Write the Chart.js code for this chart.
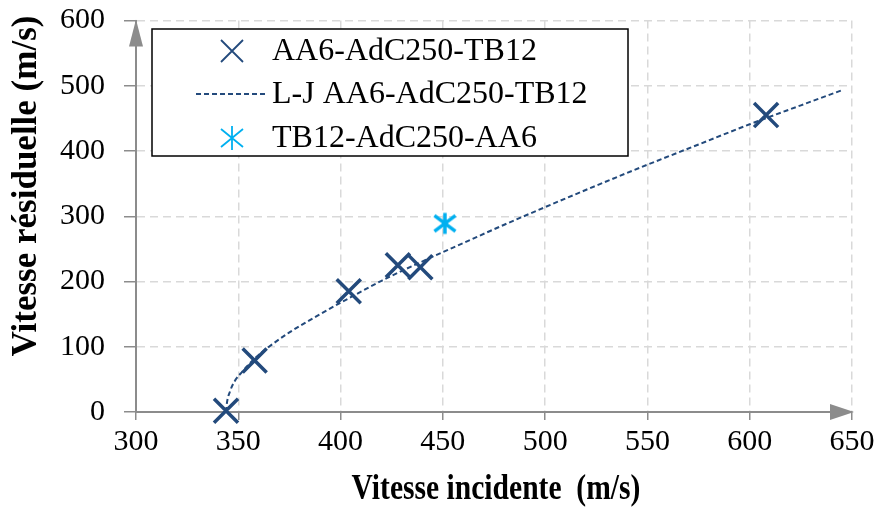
<!DOCTYPE html>
<html>
<head>
<meta charset="utf-8">
<script src="https://cdn.jsdelivr.net/npm/chart.js@4.4.1/dist/chart.umd.min.js"></script>
<style>
  html, body { margin: 0; padding: 0; background: #fff; }
  #wrap { width: 880px; height: 509px; }
</style>
</head>
<body>
<div id="wrap"><canvas id="myChart" width="880" height="509"></canvas></div>
<script>
// measured points, AA6-AdC250-TB12
const incident = [344, 358, 404, 428, 439, 608];
const residual = [2, 79, 185, 225, 222, 455];

// reversed stacking, TB12-AdC250-AA6
const incidentRev = [451];
const residualRev = [289];

// Lambert-Jonas fit
const ljIncident = [344, 344.5, 346, 348, 352, 358, 365, 375, 390, 405, 420, 445, 460, 480, 500, 525, 550, 575, 600, 625, 645];
const ljResidual = [0, 15, 32, 46, 62, 82, 100, 122, 150, 176, 201, 238, 259, 287, 314, 347, 379, 410, 441, 470, 493];

const xTicks = [300, 350, 400, 450, 500, 550, 600, 650];
const yTicks = [0, 100, 200, 300, 400, 500, 600];

const darkBlue = '#234a7c';
const cyan = '#00b0f0';
const serif = "'Liberation Serif', 'Times New Roman', serif";

// asterisk marker (X plus vertical bar)
function makeAsterisk(size, color, lw) {
  const c = document.createElement('canvas');
  c.width = size; c.height = size;
  const g = c.getContext('2d');
  const m = size / 2, r = size / 2 - lw;
  g.strokeStyle = color; g.lineWidth = lw; g.lineCap = 'butt';
  g.beginPath();
  g.moveTo(m - r, m - r * 0.75); g.lineTo(m + r, m + r * 0.75);
  g.moveTo(m - r, m + r * 0.75); g.lineTo(m + r, m - r * 0.75);
  g.moveTo(m, m - r); g.lineTo(m, m + r);
  g.stroke();
  return c;
}

const toXY = (xs, ys) => xs.map((x, i) => ({ x: x, y: ys[i] }));

const decorations = {
  id: 'decorations',
  afterDraw(chart) {
    const { ctx, chartArea: a } = chart;
    ctx.save();
    ctx.fillStyle = '#8c8c8c';
    // x arrow
    ctx.beginPath();
    ctx.moveTo(a.right + 2, a.bottom);
    ctx.lineTo(a.right - 22, a.bottom - 8);
    ctx.lineTo(a.right - 22, a.bottom + 8);
    ctx.closePath();
    ctx.fill();
    // y arrow
    ctx.beginPath();
    ctx.moveTo(a.left, a.top - 1);
    ctx.lineTo(a.left - 7, a.top + 26);
    ctx.lineTo(a.left + 7, a.top + 26);
    ctx.closePath();
    ctx.fill();
    ctx.restore();

    // axis titles
    ctx.save();
    ctx.fillStyle = '#000';
    ctx.font = "bold 35px " + serif;
    ctx.textAlign = 'center';
    ctx.textBaseline = 'middle';
    ctx.translate(27, 186);
    ctx.rotate(-Math.PI / 2);
    ctx.fillText('Vitesse résiduelle (m/s)', 0, 0);
    ctx.restore();

    ctx.save();
    ctx.fillStyle = '#000';
    ctx.font = "bold 35px " + serif;
    ctx.textAlign = 'center';
    ctx.textBaseline = 'middle';
    ctx.translate(496, 490);
    ctx.scale(0.845, 1);
    ctx.fillText('Vitesse incidente  (m/s)', 0, 0);
    ctx.restore();

    // legend box
    ctx.save();
    ctx.fillStyle = '#fff';
    ctx.fillRect(152, 29, 476, 127);
    ctx.strokeStyle = '#000';
    ctx.lineWidth = 1.5;
    ctx.strokeRect(152, 29, 476, 127);
    const rows = [51, 94, 138];
    const mx = 232;
    ctx.strokeStyle = darkBlue;
    ctx.lineWidth = 1.8;
    ctx.beginPath();
    ctx.moveTo(mx - 11, rows[0] - 11); ctx.lineTo(mx + 11, rows[0] + 11);
    ctx.moveTo(mx - 11, rows[0] + 11); ctx.lineTo(mx + 11, rows[0] - 11);
    ctx.stroke();
    ctx.setLineDash([5, 3]);
    ctx.beginPath();
    ctx.moveTo(196, rows[1]); ctx.lineTo(266, rows[1]);
    ctx.stroke();
    ctx.setLineDash([]);
    ctx.strokeStyle = cyan;
    ctx.beginPath();
    ctx.moveTo(mx - 11, rows[2] - 9); ctx.lineTo(mx + 11, rows[2] + 9);
    ctx.moveTo(mx - 11, rows[2] + 9); ctx.lineTo(mx + 11, rows[2] - 9);
    ctx.moveTo(mx, rows[2] - 12); ctx.lineTo(mx, rows[2] + 12);
    ctx.stroke();
    ctx.fillStyle = '#000';
    ctx.font = "32px " + serif;
    ctx.textAlign = 'left';
    ctx.textBaseline = 'middle';
    ctx.fillText('AA6-AdC250-TB12', 272, rows[0] + 1);
    ctx.fillText('L-J AA6-AdC250-TB12', 272, rows[1] + 1);
    ctx.fillText('TB12-AdC250-AA6', 272, rows[2] + 1);
    ctx.restore();
  }
};

const ctx = document.getElementById('myChart').getContext('2d');
const myChart = new Chart(ctx, {
  type: 'scatter',
  data: {
    datasets: [
      {
        label: 'L-J AA6-AdC250-TB12',
        data: toXY(ljIncident, ljResidual),
        showLine: true,
        borderColor: darkBlue,
        borderWidth: 2,
        borderDash: [5, 3],
        pointRadius: 0,
        cubicInterpolationMode: 'monotone',
        clip: false,
        order: 3
      },
      {
        label: 'AA6-AdC250-TB12',
        data: toXY(incident, residual),
        pointStyle: 'crossRot',
        pointRadius: 17,
        borderColor: darkBlue,
        borderWidth: 3.5,
        clip: false,
        order: 1
      },
      {
        label: 'TB12-AdC250-AA6',
        data: toXY(incidentRev, residualRev),
        pointStyle: makeAsterisk(28, cyan, 3.5),
        pointRadius: 14,
        clip: false,
        order: 2
      }
    ]
  },
  options: {
    responsive: false,
    animation: false,
    layout: { padding: { left: 0, right: 28, top: 20, bottom: 0 } },
    plugins: {
      legend: { display: false },
      tooltip: { enabled: false }
    },
    scales: {
      x: {
        type: 'linear',
        min: 300,
        max: 650,
        afterFit(scale) { scale.height = 97; },
        afterBuildTicks(scale) { scale.ticks = xTicks.map(v => ({ value: v })); },
        border: { display: true, color: '#8c8c8c', width: 2, dash: [8, 5] },
        grid: {
          color: '#d9d9d9', lineWidth: 1.5, tickLength: 8,
          tickColor: '#8c8c8c', tickWidth: 1.5, tickBorderDash: []
        },
        ticks: { color: '#000', font: { family: serif, size: 30 }, padding: 4 }
      },
      y: {
        type: 'linear',
        min: 0,
        max: 600,
        afterFit(scale) {
          scale.width = 136;
          scale.paddingTop = 0;
          scale.paddingBottom = 0;
        },
        afterBuildTicks(scale) { scale.ticks = yTicks.map(v => ({ value: v })); },
        border: { display: true, color: '#8c8c8c', width: 2, dash: [8, 5] },
        grid: {
          color: '#d9d9d9', lineWidth: 1.5, tickLength: 12,
          tickColor: '#8c8c8c', tickWidth: 1.5, tickBorderDash: []
        },
        ticks: { color: '#000', font: { family: serif, size: 30 }, padding: 19 }
      }
    }
  },
  plugins: [decorations]
});
</script>
</body>
</html>
